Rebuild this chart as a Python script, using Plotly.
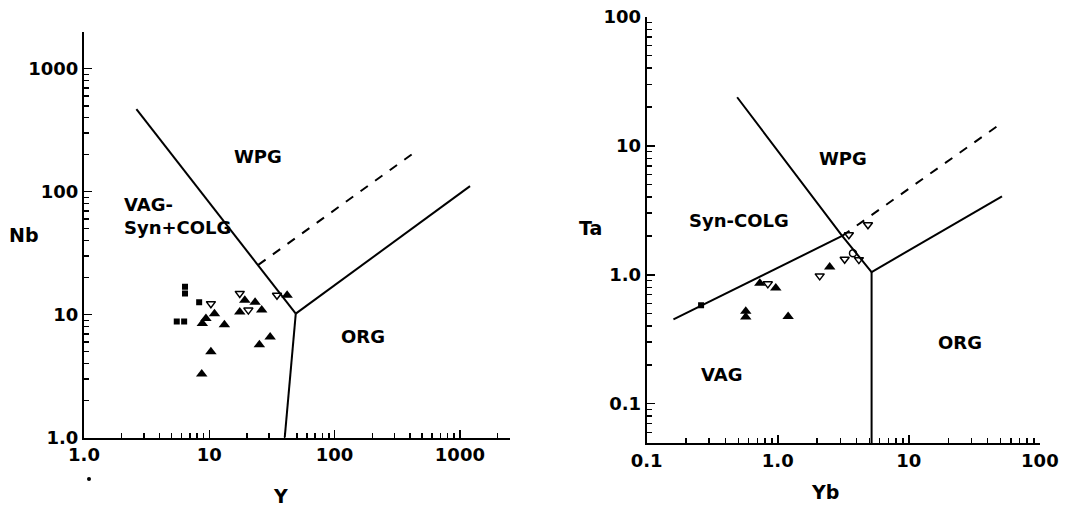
import math
import plotly.graph_objects as go

# ---------------- data: left diagram (Nb vs Y) ----------------
left_sq_Y = [6.4, 6.4, 8.3, 5.5, 6.3]
left_sq_Nb = [16.9, 14.9, 12.6, 8.8, 8.8]

left_tri_Y = [9.4, 11.0, 8.8, 13.2, 10.3, 8.7, 19.2, 17.5, 23.2, 26.2, 30.6, 25.1, 41.8]
left_tri_Nb = [9.3, 10.2, 8.5, 8.3, 5.0, 3.3, 13.1, 10.5, 12.6, 10.9, 6.6, 5.7, 14.4]

left_open_Y = [10.3, 17.5, 20.5, 34.7]
left_open_Nb = [12.3, 14.9, 10.9, 14.4]

# boundaries (Y, Nb)
left_bnd_a_Y = [2.62, 49]
left_bnd_a_Nb = [470, 10.2]
left_bnd_b_Y = [49, 1205]
left_bnd_b_Nb = [10.2, 111]
left_bnd_c_Y = [49, 40]
left_bnd_c_Nb = [10.2, 1.0]
left_dash_Y = [24.6, 432]
left_dash_Nb = [25.4, 208]

# ---------------- data: right diagram (Ta vs Yb) ----------------
right_sq_Yb = [0.26]
right_sq_Ta = [0.58]

right_tri_Yb = [0.57, 0.57, 0.73, 0.966, 1.2, 2.49]
right_tri_Ta = [0.52, 0.47, 0.86, 0.79, 0.475, 1.15]

right_open_Yb = [0.84, 2.09, 3.24, 4.16, 3.49, 4.88]
right_open_Ta = [0.85, 0.98, 1.32, 1.31, 2.04, 2.44]

right_circ_Yb = [3.75]
right_circ_Ta = [1.47]

right_bnd_a_Yb = [0.49, 3.1, 5.2]
right_bnd_a_Ta = [23.8, 2.0, 1.05]
right_bnd_b_Yb = [0.16, 3.1]
right_bnd_b_Ta = [0.45, 2.0]
right_bnd_c_Yb = [5.2, 51.4]
right_bnd_c_Ta = [1.05, 4.05]
right_bnd_d_Yb = [5.2, 5.2]
right_bnd_d_Ta = [1.05, 0.049]
right_dash_Yb = [3.1, 52]
right_dash_Ta = [2.0, 15.2]

left_x_ticks = [1, 10, 100, 1000]
left_x_labels = ["1.0", "10", "100", "1000"]
left_y_ticks = [1, 10, 100, 1000]
left_y_labels = ["1.0", "10", "100", "1000"]
right_x_ticks = [0.1, 1, 10, 100]
right_x_labels = ["0.1", "1.0", "10", "100"]
right_y_ticks = [0.1, 1, 10, 100]
right_y_labels = ["0.1", "1.0", "10", "100"]

W, H = 1065, 511
OFF = 0  # page margin is removed below, so the figure starts at the window corner
FONT = "DejaVu Sans"


def px(x):
    return (x - OFF) / W


def py(y):
    return 1 - (y - OFF) / H


def minor_vals(e0, e1):
    return [m * 10 ** e for e in range(e0, e1) for m in range(2, 10)]


fig = go.Figure()

line_style = dict(color="black", width=2)
dash_style = dict(color="black", width=2, dash="dash")


def add_line(xs, ys, xa, ya, style):
    fig.add_trace(go.Scatter(x=xs, y=ys, mode="lines", line=style,
                             xaxis=xa, yaxis=ya, showlegend=False, hoverinfo="skip"))


def add_pts(xs, ys, xa, ya, symbol, size, lw=1.5):
    fig.add_trace(go.Scatter(x=xs, y=ys, mode="markers", xaxis=xa, yaxis=ya,
                             marker=dict(symbol=symbol, size=size, color="black",
                                         line=dict(color="black", width=lw)),
                             showlegend=False, hoverinfo="skip"))


# left
add_line(left_bnd_a_Y, left_bnd_a_Nb, "x", "y", line_style)
add_line(left_bnd_b_Y, left_bnd_b_Nb, "x", "y", line_style)
add_line(left_bnd_c_Y, left_bnd_c_Nb, "x", "y", line_style)
add_line(left_dash_Y, left_dash_Nb, "x", "y", dash_style)
add_pts(left_sq_Y, left_sq_Nb, "x", "y", "square", 6, 0)
add_pts(left_tri_Y, left_tri_Nb, "x", "y", "triangle-up", 10, 0)
add_pts(left_open_Y, left_open_Nb, "x", "y", "triangle-down-open", 8, 1.5)

# right
add_line(right_bnd_a_Yb, right_bnd_a_Ta, "x2", "y2", line_style)
add_line(right_bnd_b_Yb, right_bnd_b_Ta, "x2", "y2", line_style)
add_line(right_bnd_c_Yb, right_bnd_c_Ta, "x2", "y2", line_style)
add_line(right_bnd_d_Yb, right_bnd_d_Ta, "x2", "y2", line_style)
add_line(right_dash_Yb, right_dash_Ta, "x2", "y2", dash_style)
add_pts(right_sq_Yb, right_sq_Ta, "x2", "y2", "square", 6, 0)
add_pts(right_tri_Yb, right_tri_Ta, "x2", "y2", "triangle-up", 10, 0)
add_pts(right_open_Yb, right_open_Ta, "x2", "y2", "triangle-down-open", 8, 1.5)
add_pts(right_circ_Yb, right_circ_Ta, "x2", "y2", "circle-open", 7, 1.5)

tickfont = dict(family=FONT, size=18, color="black", weight="bold")


def axis(domain, rng, tv, tt, minor, anchor):
    return dict(type="log", domain=domain, range=rng, anchor=anchor, automargin=False,
                showline=True, linecolor="black", linewidth=2, mirror=False,
                showgrid=False, zeroline=False, ticklabeloverflow="allow",
                tickmode="array", tickvals=tv, ticktext=tt,
                ticks="inside", ticklen=8, tickwidth=1.5, tickcolor="black",
                tickfont=tickfont,
                minor=dict(tickmode="array", tickvals=minor, ticks="inside",
                           ticklen=5, tickwidth=1.5, tickcolor="black", showgrid=False))


fig.update_layout(
    width=W, height=H,
    margin=dict(l=0, r=0, t=0, b=0, autoexpand=False),
    paper_bgcolor="white", plot_bgcolor="white",
    xaxis=axis([px(84), px(510)], [0, 3.40], left_x_ticks, left_x_labels,
               minor_vals(0, 4), "y"),
    yaxis=axis([py(437.7), py(31.7)], [0, 3.301], left_y_ticks, left_y_labels,
               minor_vals(0, 4), "x"),
    xaxis2=axis([px(646.7), px(1040)], [-1, 2.001], right_x_ticks, right_x_labels,
                minor_vals(-1, 2), "y2"),
    yaxis2=axis([py(443.3), py(16.7)], [-1.307, 2.001], right_y_ticks, right_y_labels,
                minor_vals(-2, 2), "x2"),
)

lab = dict(family=FONT, size=18, color="black", weight="bold")


def ann_data(text, x, y, xr, yr, xanchor="center", align="center"):
    fig.add_annotation(text=text, x=math.log10(x), y=math.log10(y), xref=xr, yref=yr,
                       showarrow=False, font=lab, xanchor=xanchor, yanchor="middle",
                       align=align)


ann_data("WPG", 24.6, 195, "x", "y")
ann_data("VAG-<br>Syn+COLG", 2.0, 64, "x", "y", "left", "left")
ann_data("ORG", 170, 6.6, "x", "y")

ann_data("WPG", 3.14, 8.0, "x2", "y2")
ann_data("Syn-COLG", 0.51, 2.63, "x2", "y2")
ann_data("VAG", 0.37, 0.169, "x2", "y2")
ann_data("ORG", 24.4, 0.30, "x2", "y2")

ttl = dict(family=FONT, size=19, color="black", weight="bold")
for text, tx, ty in [("Nb", 24, 235), ("Y", 280, 496), ("Ta", 590, 228), ("Yb", 825, 492)]:
    fig.add_annotation(text=text, x=px(tx), y=py(ty), xref="paper", yref="paper",
                       showarrow=False, font=ttl, xanchor="center", yanchor="middle")

# small speck below the left axis
fig.add_shape(type="circle", xref="paper", yref="paper",
              x0=px(87), x1=px(91), y0=py(481), y1=py(477),
              fillcolor="black", line=dict(width=0))

fig.write_html("out.html",
               config={"displayModeBar": False, "staticPlot": True},
               post_script="document.body.style.margin='0';document.body.style.padding='0';")
